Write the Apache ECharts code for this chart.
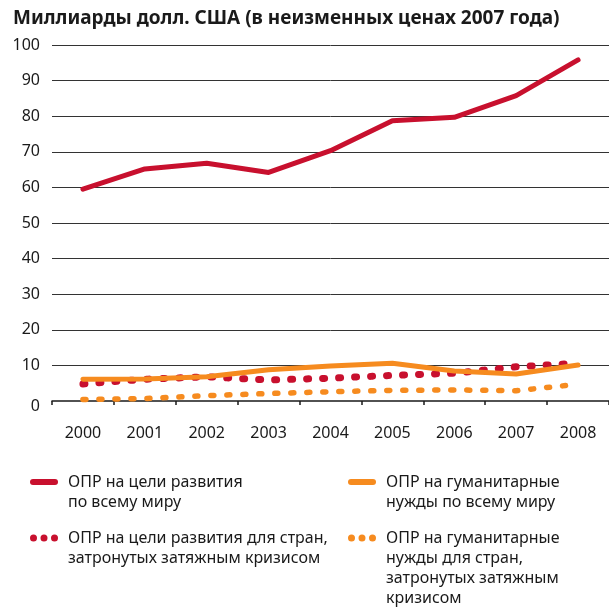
<!DOCTYPE html>
<html>
  <head>
    <meta charset="utf-8" />
    <title>ОПР</title>
    <script src="https://cdn.jsdelivr.net/npm/echarts@6/dist/echarts.min.js"></script>
    <style>
      html, body { margin: 0; padding: 0; background: #fff; }
    </style>
  </head>
  <body>
    <div id="main" style="width: 609px; height: 607px"></div>
    <script>
      // годы по оси X
      var years = ["2000", "2001", "2002", "2003", "2004", "2005", "2006", "2007", "2008"];
      var yTicks = [0, 100, 10]; // min, max, шаг

      // млрд долл. США
      var devWorld = [59.5, 65.2, 66.8, 64.2, 70.3, 78.7, 79.7, 85.8, 95.8];
      var humWorld = [6.1, 6.2, 6.8, 8.8, 9.8, 10.6, 8.4, 7.6, 10.1];
      var devCrisis = [4.8, 6.1, 6.8, 5.9, 6.4, 7.2, 7.8, 9.6, 10.6];
      var humCrisis = [0.4, 0.7, 1.5, 2.1, 2.6, 3.0, 3.1, 2.9, 4.7];

      var names = [
        "ОПР на цели развития\nпо всему миру",
        "ОПР на гуманитарные\nнужды по всему миру",
        "ОПР на цели развития для стран,\nзатронутых затяжным кризисом",
        "ОПР на гуманитарные\nнужды для стран,\nзатронутых затяжным\nкризисом",
      ];

      var RED = "#c8102e";
      var ORANGE = "#f68b1f";
      var FONT = "Noto Sans";
      var INK = "#1a1a1a";

      // значок сверху, невидимые точки растягивают рамку на высоту текста
      function barIcon(h) {
        return "path://M0,0L0,0M3,7L25,7A3,3,0,0,1,25,13L3,13A3,3,0,0,1,3,7ZM28," + h + "L28," + h;
      }
      function dotsIcon(h) {
        var c = "";
        [0, 10.5, 21].forEach(function (x) {
          c += "M" + x + ",10a3.5,3.5 0 1,0 7,0a3.5,3.5 0 1,0 -7,0Z";
        });
        return "path://M0,0L0,0" + c + "M28," + h + "L28," + h;
      }

      function legendAt(left, top, name, icon, lines) {
        return {
          left: left,
          top: top,
          padding: 0,
          data: [{ name: name, icon: icon }],
          itemWidth: 28,
          itemHeight: lines * 20,
          selectedMode: false,
          itemStyle: { borderWidth: 0 },
          textStyle: {
            fontFamily: FONT,
            fontSize: 16,
            color: INK,
            lineHeight: 20,
            padding: [0, 0, 0, 5],
          },
        };
      }

      var chart = echarts.init(document.getElementById("main"));
      var option = {
        animation: false,
        backgroundColor: "#fff",
        title: {
          text: "Миллиарды долл. США (в неизменных ценах 2007 года)",
          left: 8,
          top: 4,
          textStyle: { fontFamily: FONT, fontSize: 19, fontWeight: "bold", color: INK },
        },
        legend: [
          legendAt(30, 472, names[0], barIcon(40), 2),
          legendAt(348, 472, names[1], barIcon(40), 2),
          legendAt(30, 528, names[2], dotsIcon(40), 2),
          legendAt(348, 528, names[3], dotsIcon(80), 4),
        ],
        grid: { left: 52, right: 0, top: 45, bottom: 206 },
        xAxis: {
          type: "category",
          data: years,
          boundaryGap: true,
          offset: 5,
          axisLine: { lineStyle: { color: INK, width: 1.5 } },
          axisTick: { show: true, length: 4, lineStyle: { color: INK, width: 1.5 } },
          axisLabel: { fontFamily: FONT, fontSize: 16, color: INK, margin: 19 },
        },
        yAxis: {
          type: "value",
          min: yTicks[0],
          max: yTicks[1],
          interval: yTicks[2],
          axisLine: { show: false },
          axisTick: { show: false },
          axisLabel: {
            fontFamily: FONT,
            fontSize: 16,
            color: INK,
            margin: 12,
            formatter: function (v) {
              return v === 0 ? "{z|0}" : String(v);
            },
            rich: { z: { fontFamily: FONT, fontSize: 16, color: INK, padding: [10, 0, 0, 0] } },
          },
          splitLine: { showMinLine: false, lineStyle: { color: "#333", width: 1 } },
        },
        series: [
          {
            name: names[2],
            type: "line",
            data: devCrisis,
            symbol: "none",
            color: RED,
            lineStyle: { color: RED, width: 7, type: [2, 14], cap: "round" },
          },
          {
            name: names[3],
            type: "line",
            data: humCrisis,
            symbol: "none",
            color: ORANGE,
            lineStyle: { color: ORANGE, width: 5.5, type: [3, 13], cap: "round" },
          },
          {
            name: names[0],
            type: "line",
            data: devWorld,
            symbol: "none",
            color: RED,
            lineStyle: { color: RED, width: 5, cap: "round", join: "round" },
          },
          {
            name: names[1],
            type: "line",
            data: humWorld,
            symbol: "none",
            color: ORANGE,
            lineStyle: { color: ORANGE, width: 5, cap: "round", join: "round" },
          },
        ],
      };
      chart.setOption(option);
    </script>
  </body>
</html>
